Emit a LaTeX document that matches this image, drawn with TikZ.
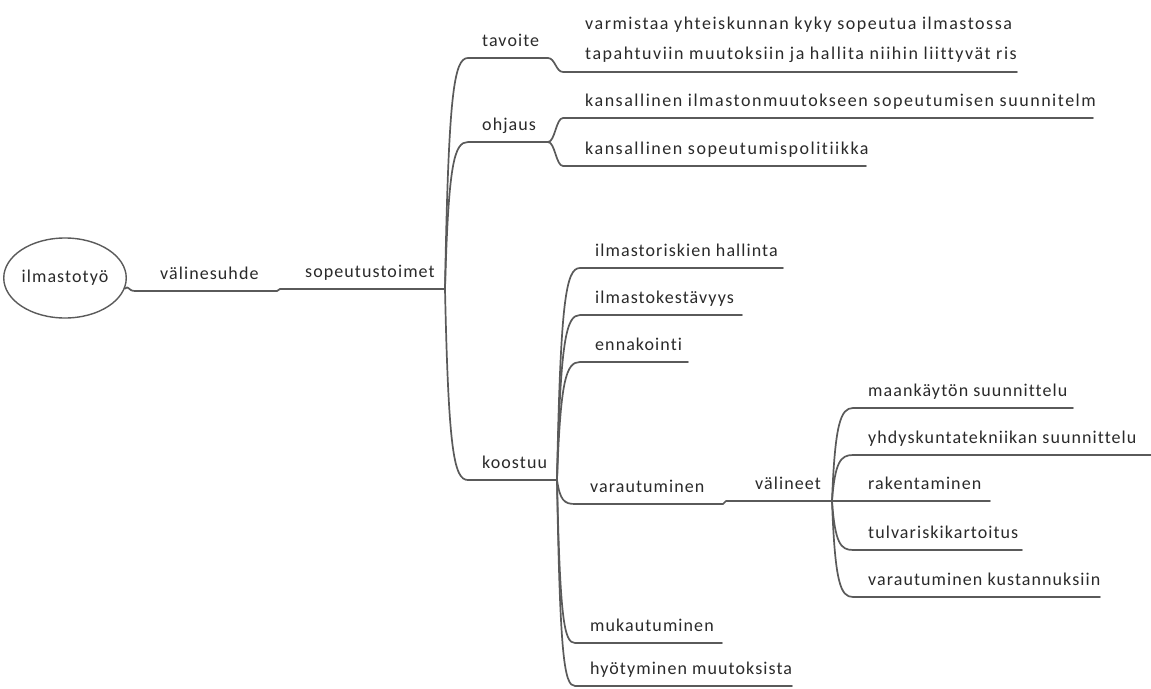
\documentclass[tikz,border=0pt]{standalone}
\usepackage{fontspec}
\setmainfont{Carlito}[LetterSpace=6, Ligatures=NoCommon]
\usetikzlibrary{shapes.geometric}
\definecolor{linec}{HTML}{5A5A5A}
\definecolor{txtc}{HTML}{2A2A2A}
\begin{document}
\begin{tikzpicture}[x=1pt,y=-1pt,
  ln/.style={draw=linec, line width=1.7pt, line cap=round, line join=round},
  lbl/.style={anchor=base west, inner sep=0pt, text=txtc, font=\fontsize{18}{30}\selectfont},
  wide/.style={lbl, font=\fontsize{18}{30}\selectfont\addfontfeatures{LetterSpace=8.5}},
]
\useasboundingbox (0,0) rectangle (1151,688);
\fill[white] (0,0) rectangle (1151,688);

% root
\node[draw=linec, line width=1.4pt, ellipse, minimum width=114pt, minimum height=80pt,
      inner sep=0pt, text=txtc, font=\fontsize{18}{30}\selectfont] (root) at (65,278) {ilmastotyö};

% labels
\node[lbl] (valinesuhde) at (160,279) {välinesuhde};
\node[lbl] (sopeutustoimet) at (305,277) {sopeutustoimet};
\node[lbl] (tavoite) at (482,46) {tavoite};
\node[lbl] (ohjaus) at (482,130) {ohjaus};
\node[lbl] (koostuu) at (482,468) {koostuu};
\begin{scope}
  \clip (560,0) rectangle (1018,80);
  \node[wide] (long1) at (585,29) {varmistaa yhteiskunnan kyky sopeutua ilmastossa};
  \node[wide] (long2) at (585,59) {tapahtuviin muutoksiin ja hallita niihin liittyvät riskit};
\end{scope}
\begin{scope}
  \clip (560,80) rectangle (1094,125);
  \node[wide] (kans1) at (585,106) {kansallinen ilmastonmuutokseen sopeutumisen suunnitelma};
\end{scope}
\node[wide] (kans2) at (585,154) {kansallinen sopeutumispolitiikka};
\node[lbl] (riski) at (595,256) {ilmastoriskien hallinta};
\node[lbl] (kesta) at (595,303) {ilmastokestävyys};
\node[lbl] (ennak) at (595,350) {ennakointi};
\node[lbl] (varau) at (590,492) {varautuminen};
\node[lbl] (valineet) at (755,489) {välineet};
\node[lbl] (maank) at (868,396) {maankäytön suunnittelu};
\begin{scope}
  \clip (850,420) rectangle (1151,470);
  \node[lbl] (yhdys) at (868,443) {yhdyskuntatekniikan suunnittelu};
\end{scope}
\node[lbl] (raken) at (868,489) {rakentaminen};
\node[lbl] (tulva) at (868,538) {tulvariskikartoitus};
\node[lbl] (kustan) at (868,585) {varautuminen kustannuksiin};
\node[lbl] (mukau) at (590,631) {mukautuminen};
\node[lbl] (hyoty) at (590,674) {hyötyminen muutoksista};

% connector points
\coordinate (vsL) at (135,291);
\coordinate (vsR) at (277,291);
\coordinate (spL) at (280,289);
\coordinate (S) at (445,289);
\coordinate (tavL) at (468,58);   \coordinate (tavR) at (548,58);
\coordinate (lngL) at (563,72);   \coordinate (lngR) at (1017,72);
\coordinate (ohjL) at (468,142);  \coordinate (ohjR) at (548,142);
\coordinate (k1L) at (563,118);   \coordinate (k1R) at (1093,118);
\coordinate (k2L) at (563,166);   \coordinate (k2R) at (866,166);
\coordinate (kooL) at (468,480);  \coordinate (kooR) at (557,480);
\coordinate (riL) at (580,268);   \coordinate (riR) at (783,268);
\coordinate (keL) at (580,315);   \coordinate (keR) at (742,315);
\coordinate (enL) at (580,362);   \coordinate (enR) at (688,362);
\coordinate (vaL) at (575,504);   \coordinate (vaR) at (723,504);
\coordinate (vlL) at (726,501);   \coordinate (V) at (832,501);
\coordinate (maL) at (853,408);   \coordinate (maR) at (1073,408);
\coordinate (yhL) at (853,455);   \coordinate (yhR) at (1151,455);
\coordinate (raR) at (990,501);
\coordinate (tuL) at (853,550);   \coordinate (tuR) at (1022,550);
\coordinate (kuL) at (853,597);   \coordinate (kuR) at (1100,597);
\coordinate (muL) at (575,643);   \coordinate (muR) at (722,643);
\coordinate (hyL) at (575,686);   \coordinate (hyR) at (792,686);

% connectors
\draw[ln] (root.-10) .. controls (129,285) and (128,291) .. (vsL) -- (vsR) -- (spL) -- (S);
\draw[ln] (S) .. controls (448.5,93) and (454,58) .. (tavL) -- (tavR)
          .. controls (555,58) and (556,72) .. (lngL) -- (lngR);
\draw[ln] (S) .. controls (448.5,164) and (454,142) .. (ohjL) -- (ohjR);
\draw[ln] (ohjR) .. controls (555,142) and (556,118) .. (k1L) -- (k1R);
\draw[ln] (ohjR) .. controls (555,142) and (556,166) .. (k2L) -- (k2R);
\draw[ln] (S) .. controls (448.5,451) and (454,480) .. (kooL) -- (kooR);
\draw[ln] (kooR) .. controls (560.5,300) and (566,268) .. (riL) -- (riR);
\draw[ln] (kooR) .. controls (560.5,340) and (566,315) .. (keL) -- (keR);
\draw[ln] (kooR) .. controls (560.5,380) and (566,362) .. (enL) -- (enR);
\draw[ln] (kooR) .. controls (560,500) and (564,504) .. (vaL) -- (vaR) -- (vlL) -- (V);
\draw[ln] (kooR) .. controls (560,619) and (564,643) .. (muL) -- (muR);
\draw[ln] (kooR) .. controls (560,655) and (564,686) .. (hyL) -- (hyR);
\draw[ln] (V) .. controls (835,424) and (840.5,408) .. (maL) -- (maR);
\draw[ln] (V) .. controls (835,462) and (840.5,455) .. (yhL) -- (yhR);
\draw[ln] (V) -- (raR);
\draw[ln] (V) .. controls (835,543) and (840.5,550) .. (tuL) -- (tuR);
\draw[ln] (V) .. controls (835,583) and (840.5,597) .. (kuL) -- (kuR);
\end{tikzpicture}
\end{document}
